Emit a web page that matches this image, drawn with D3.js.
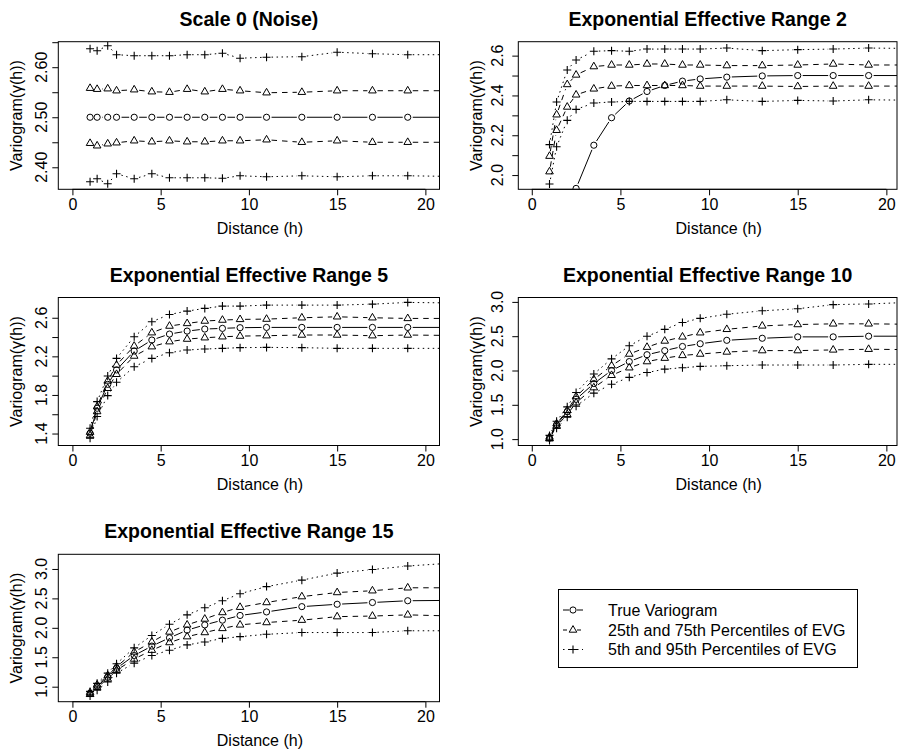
<!DOCTYPE html>
<html><head><meta charset="utf-8">
<script src="https://cdn.jsdelivr.net/npm/d3@7"></script>
<style>
body{margin:0;background:#fff}
svg{display:block}
text{font-family:"Liberation Sans",Arial,Helvetica,sans-serif;fill:#000}
</style>
</head><body>
<svg id="chart" width="898" height="755"></svg>
<script>
// ---------------- data ----------------
const lags = [1, 1.4, 2, 2.5, 3.5, 4.5, 5.5, 6.5, 7.5, 8.5, 9.5, 11, 13, 15, 17, 19, 23];
const panelTitles = ["Scale 0 (Noise)", "Exponential Effective Range 2", "Exponential Effective Range 5",
                     "Exponential Effective Range 10", "Exponential Effective Range 15"];
const xTicks = [0, 5, 10, 15, 20];

// true variogram per panel
const trueVariogram = [
  [2.5,2.5,2.5,2.5,2.5,2.5,2.5,2.5,2.5,2.5,2.5,2.5,2.5,2.5,2.5,2.5,2.5],
  [0.9,1.25,1.62,1.933,2.15,2.288,2.372,2.42,2.45,2.472,2.483,2.492,2.498,2.5,2.5,2.5,2.5],
  [1.403,1.662,1.91,2.059,2.255,2.369,2.431,2.462,2.483,2.49,2.497,2.5,2.5,2.5,2.5,2.5,2.5],
  [1.015,1.21,1.40,1.58,1.81,2.0,2.13,2.23,2.29,2.35,2.39,2.44,2.47,2.49,2.49,2.50,2.50],
  [0.887,1.01,1.16,1.31,1.53,1.69,1.83,1.96,2.05,2.13,2.21,2.27,2.36,2.40,2.43,2.46,2.47]
];
// 5th percentile of EVG
const evgP05 = [
  [2.371,2.377,2.367,2.387,2.377,2.387,2.379,2.379,2.379,2.378,2.383,2.381,2.383,2.381,2.383,2.383,2.381],
  [1.955,2.142,2.275,2.33,2.362,2.367,2.37,2.37,2.37,2.37,2.37,2.378,2.37,2.375,2.372,2.378,2.375],
  [1.352,1.576,1.793,1.931,2.093,2.179,2.238,2.266,2.276,2.283,2.29,2.293,2.29,2.283,2.283,2.283,2.283],
  [0.98,1.16,1.32,1.48,1.67,1.80,1.90,1.97,2.02,2.04,2.06,2.07,2.08,2.08,2.08,2.09,2.09],
  [0.84,0.94,1.08,1.23,1.40,1.53,1.62,1.71,1.76,1.82,1.85,1.89,1.92,1.92,1.92,1.95,1.95]
];
// 25th percentile of EVG
const evgP25 = [
  [2.448,2.443,2.447,2.449,2.453,2.451,2.453,2.451,2.451,2.453,2.453,2.455,2.45,2.453,2.45,2.45,2.45],
  [2.017,2.225,2.342,2.403,2.433,2.447,2.45,2.45,2.45,2.45,2.447,2.447,2.447,2.445,2.447,2.447,2.447],
  [1.379,1.628,1.869,2.014,2.203,2.3,2.352,2.379,2.393,2.403,2.41,2.414,2.421,2.421,2.414,2.421,2.414],
  [1.005,1.19,1.36,1.53,1.75,1.93,2.04,2.13,2.18,2.22,2.24,2.27,2.29,2.29,2.30,2.31,2.30],
  [0.87,0.99,1.13,1.28,1.47,1.62,1.75,1.85,1.92,1.99,2.05,2.09,2.13,2.19,2.20,2.22,2.19]
];
// 75th percentile of EVG
const evgP75 = [
  [2.558,2.556,2.557,2.553,2.555,2.551,2.55,2.556,2.551,2.556,2.553,2.549,2.55,2.553,2.553,2.553,2.553],
  [2.095,2.303,2.455,2.503,2.545,2.553,2.553,2.558,2.558,2.553,2.553,2.55,2.55,2.553,2.558,2.553,2.553],
  [1.414,1.679,1.945,2.11,2.307,2.445,2.514,2.541,2.566,2.576,2.583,2.586,2.6,2.61,2.6,2.593,2.593],
  [1.03,1.225,1.42,1.62,1.87,2.07,2.24,2.34,2.43,2.49,2.55,2.60,2.65,2.67,2.68,2.68,2.67],
  [0.90,1.03,1.19,1.34,1.59,1.76,1.93,2.05,2.15,2.26,2.35,2.43,2.53,2.60,2.63,2.68,2.68]
];
// 95th percentile of EVG
const evgP95 = [
  [2.637,2.633,2.643,2.625,2.623,2.623,2.623,2.625,2.625,2.628,2.618,2.62,2.621,2.63,2.627,2.625,2.625],
  [2.153,2.367,2.528,2.578,2.622,2.625,2.622,2.633,2.633,2.633,2.633,2.638,2.625,2.63,2.633,2.638,2.635],
  [1.455,1.731,1.997,2.179,2.403,2.559,2.634,2.669,2.697,2.721,2.721,2.731,2.731,2.731,2.741,2.759,2.75],
  [1.054,1.26,1.47,1.68,1.95,2.17,2.36,2.5,2.6,2.70,2.76,2.82,2.87,2.90,2.96,2.97,3.01],
  [0.92,1.057,1.23,1.39,1.66,1.87,2.06,2.22,2.34,2.46,2.58,2.70,2.81,2.93,2.99,3.05,3.13]
];
// y-axis ticks and labelled ticks per panel
const yTicks = [
  [2.40,2.45,2.50,2.55,2.60,2.65],
  [2.0,2.1,2.2,2.3,2.4,2.5,2.6],
  [1.4,1.6,1.8,2.0,2.2,2.4,2.6],
  [1.0,1.5,2.0,2.5,3.0],
  [1.0,1.5,2.0,2.5,3.0]
];
const yTickLabels = [
  ["2.40","2.50","2.60"],
  ["2.0","2.2","2.4","2.6"],
  ["1.4","1.8","2.2","2.6"],
  ["1.0","1.5","2.0","2.5","3.0"],
  ["1.0","1.5","2.0","2.5","3.0"]
];
const yDomains = [[2.356,2.651],[1.9285,2.67],[1.276,2.81],[0.907,3.064],[0.745,3.249]];
const legendLabels = ["True Variogram","25th and 75th Percentiles of EVG","5th and 95th Percentiles of EVG"];

// ---------------- layout ----------------
const cols = [{x0:58.3, x1:439.5, dom:[-0.8,20.8], tickOff:11},
              {x0:518.3, x1:897, dom:[-0.76,20.6], tickOff:15}];
const rows = [[41.7,189.3],[297.5,445.5],[554.3,701.7]];
const FONT = 16, TITLE = 19.5, GAP = 5;

const svg = d3.select("#chart");
svg.append("rect").attr("width",898).attr("height",755).attr("fill","#fff");

const styles = {
  solid:  {dash:null,    marker:"circle"},
  dashed: {dash:"5.5,5", marker:"triangle"},
  dotted: {dash:"1.5,3.5", marker:"plus"}
};

function drawMarker(g, type, x, y){
  if(type==="circle"){
    g.append("circle").attr("cx",x).attr("cy",y).attr("r",3.1)
      .attr("fill","none").attr("stroke","#000").attr("stroke-width",1);
  } else if(type==="triangle"){
    const r = 4.4;
    const pts = [[x, y - r],[x + r*0.866, y + r*0.5],[x - r*0.866, y + r*0.5]];
    g.append("polygon").attr("points", pts.map(p=>p.join(",")).join(" "))
      .attr("fill","none").attr("stroke","#000").attr("stroke-width",1);
  } else {
    const a = 4;
    g.append("path").attr("d",`M${x-a},${y}H${x+a}M${x},${y-a}V${y+a}`)
      .attr("stroke","#000").attr("stroke-width",1.1).attr("fill","none");
  }
}

function drawSeries(g, xs, ys, vals, style){
  const pts = lags.map((d,i)=>[xs(d), ys(vals[i])]);
  const lg = g.append("g");
  for(let i=1;i<pts.length;i++){
    const [x0,y0]=pts[i-1],[x1,y1]=pts[i];
    const d = Math.hypot(x1-x0,y1-y0);
    if(d > 2*GAP){
      const f = GAP/d;
      lg.append("line")
        .attr("x1", x0+(x1-x0)*f).attr("y1", y0+(y1-y0)*f)
        .attr("x2", x1-(x1-x0)*f).attr("y2", y1-(y1-y0)*f)
        .attr("stroke","#000").attr("stroke-width",1)
        .attr("stroke-dasharray", style.dash);
    }
  }
  pts.forEach(p=>drawMarker(g, style.marker, p[0], p[1]));
}

panelTitles.forEach((title, k)=>{
  const c = cols[k%2], r = rows[Math.floor(k/2)];
  const xs = d3.scaleLinear().domain(c.dom).range([c.x0, c.x1]);
  const ys = d3.scaleLinear().domain(yDomains[k]).range([r[1], r[0]]);
  const g = svg.append("g");
  const cx = (c.x0+c.x1)/2, cy = (r[0]+r[1])/2;

  const cid = "clip"+k;
  svg.append("clipPath").attr("id",cid).append("rect")
    .attr("x",c.x0).attr("y",r[0]).attr("width",c.x1-c.x0).attr("height",r[1]-r[0]);
  const plot = g.append("g").attr("clip-path",`url(#${cid})`);

  drawSeries(plot, xs, ys, evgP05[k], styles.dotted);
  drawSeries(plot, xs, ys, evgP95[k], styles.dotted);
  drawSeries(plot, xs, ys, evgP25[k], styles.dashed);
  drawSeries(plot, xs, ys, evgP75[k], styles.dashed);
  drawSeries(plot, xs, ys, trueVariogram[k], styles.solid);

  g.append("rect").attr("x",c.x0).attr("y",r[0]).attr("width",c.x1-c.x0).attr("height",r[1]-r[0])
    .attr("fill","none").attr("stroke","#000").attr("stroke-width",1);

  const xa = g.append("g").attr("transform",`translate(0,${r[1]})`)
    .call(d3.axisBottom(xs).tickValues(xTicks).tickSize(6).tickSizeOuter(0).tickPadding(3.3).tickFormat(d3.format("d")));
  xa.select(".domain").remove();
  xa.selectAll("line").attr("stroke","#000");
  xa.selectAll("text").attr("font-size",FONT).attr("font-family",null).attr("fill","#000");
  g.append("line").attr("x1",xs(xTicks[0])).attr("x2",xs(xTicks[xTicks.length-1]))
    .attr("y1",r[1]).attr("y2",r[1]).attr("stroke","#000");

  const ya = g.append("g").attr("transform",`translate(${c.x0},0)`)
    .call(d3.axisLeft(ys).tickValues(yTicks[k]).tickSize(6).tickSizeOuter(0).tickFormat(""));
  ya.select(".domain").remove();
  ya.selectAll("line").attr("stroke","#000");
  yTickLabels[k].forEach(lbl=>{
    const yy = ys(+lbl);
    g.append("text").attr("transform",`translate(${c.x0-c.tickOff},${yy}) rotate(-90)`)
      .attr("text-anchor","middle").attr("font-size",FONT).text(lbl);
  });

  g.append("text").attr("x",cx+11).attr("y",r[1]+44.5).attr("text-anchor","middle")
    .attr("font-size",FONT).text("Distance (h)");
  g.append("text").attr("transform",`translate(${c.x0-36},${cy}) rotate(-90)`)
    .attr("text-anchor","middle").attr("font-size",FONT).text("Variogram(γ(h))");
  g.append("text").attr("x",cx).attr("y",r[0]-16).attr("text-anchor","middle")
    .attr("font-size",TITLE).attr("font-weight","bold").text(title);
});

// ---------------- legend ----------------
const lg = svg.append("g");
lg.append("rect").attr("x",558.5).attr("y",589.5).attr("width",299).attr("height",78)
  .attr("fill","#fff").attr("stroke","#000").attr("stroke-width",1);
const legStyles = [styles.solid, styles.dashed, styles.dotted];
const legY = [610, 630, 649.5];
legendLabels.forEach((lbl,i)=>{
  const y = legY[i], st = legStyles[i];
  [[563,569],[577,583]].forEach(s=>{
    lg.append("line").attr("x1",s[0]).attr("x2",s[1]).attr("y1",y).attr("y2",y)
      .attr("stroke","#000").attr("stroke-width",1)
      .attr("stroke-dasharray", st.dash ? (i===1 ? "4,4" : "1.5,3.5") : null);
  });
  drawMarker(lg, st.marker, 573, y);
  lg.append("text").attr("x",608).attr("y",y+5.7).attr("font-size",FONT).text(lbl);
});
</script>
</body></html>
